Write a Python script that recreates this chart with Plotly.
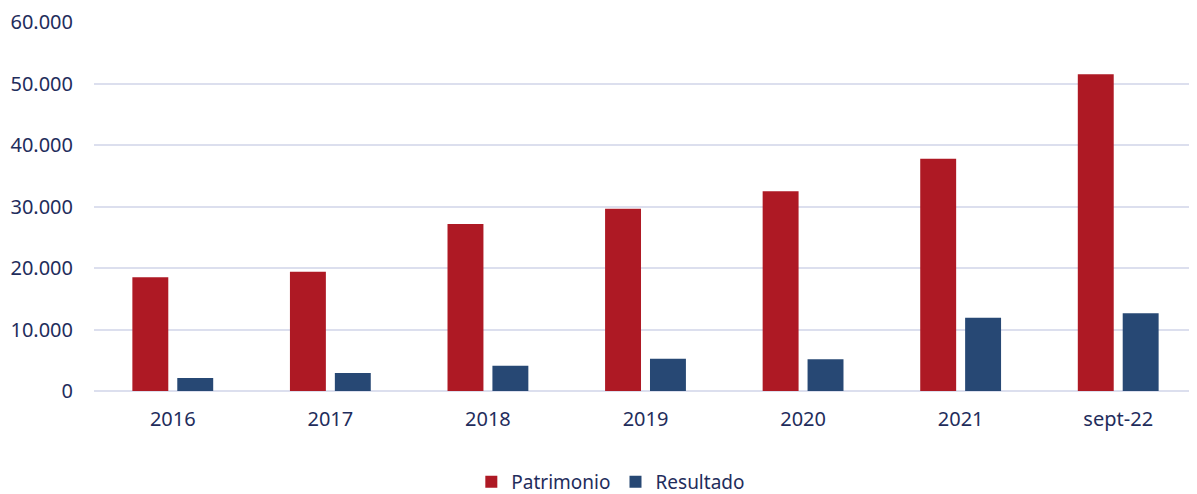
import plotly.graph_objects as go

categories = ["2016", "2017", "2018", "2019", "2020", "2021", "sept-22"]
patrimonio = [18490, 19400, 27150, 29650, 32470, 37770, 51490]
resultado = [2110, 2930, 4120, 5260, 5150, 11920, 12630]
y_ticks = [0, 10000, 20000, 30000, 40000, 50000, 60000]

text_color = "#1f2d5c"
font_family = "Noto Sans, Open Sans, sans-serif"

fig = go.Figure()
fig.add_trace(go.Bar(name="Patrimonio", x=categories, y=patrimonio,
                     marker=dict(color="#ae1924", line=dict(width=0))))
fig.add_trace(go.Bar(name="Resultado", x=categories, y=resultado,
                     marker=dict(color="#274874", line=dict(width=0))))

# page body has an 8px default margin, so the figure is drawn at (8, 8)
fig.update_layout(
    width=1189, height=486,
    margin=dict(l=86, r=0, t=14, b=103, autoexpand=False),
    paper_bgcolor="white", plot_bgcolor="white",
    separators=",.",
    barmode="group", bargap=0.43, bargroupgap=0.2,
    font=dict(family=font_family, color=text_color, size=20),
    showlegend=True,
    legend=dict(orientation="h", x=0.507, xanchor="center", xref="container",
                y=0.025, yanchor="middle", yref="container",
                font=dict(size=19, color=text_color),
                itemwidth=30, traceorder="normal"),
    xaxis=dict(showgrid=False, showline=False, zeroline=False,
               ticks="", ticklabelstandoff=14, automargin=False,
               tickfont=dict(size=20, color=text_color)),
    yaxis=dict(range=[0, 60000], tickvals=y_ticks, tickformat=",d",
               showgrid=True, gridcolor="#dcdfee", gridwidth=1.5,
               zeroline=True, zerolinecolor="#dcdfee", zerolinewidth=1.5,
               showline=False, ticks="", ticklabelstandoff=20, automargin=False,
               tickfont=dict(size=20, color=text_color)),
)

fig.write_html("out.html")
